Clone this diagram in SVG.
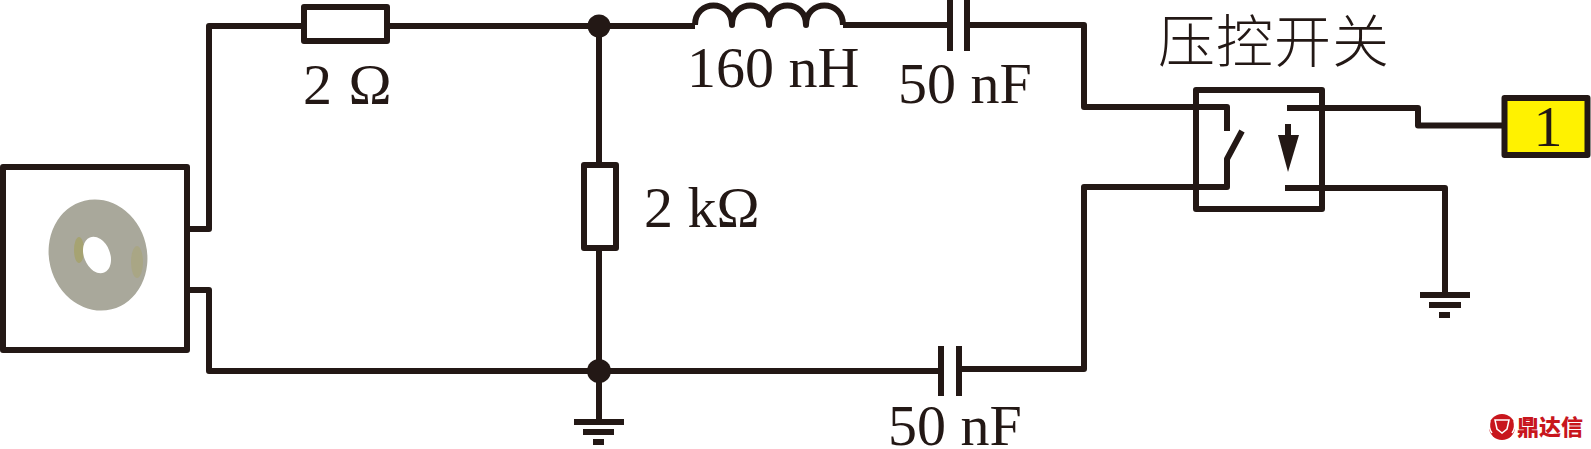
<svg xmlns="http://www.w3.org/2000/svg" width="1591" height="449" viewBox="0 0 1591 449">
<style>
.w{fill:none;stroke:#231815;stroke-width:6;stroke-linejoin:round;stroke-linecap:butt}
.b{fill:#fff;stroke:#231815;stroke-width:6;stroke-linejoin:round}
.k{fill:#231815;stroke:none}
.t{font-family:"Liberation Serif","Times New Roman",serif;font-size:58px;fill:#231815}
.c{font-family:"Noto Sans CJK SC",sans-serif;font-size:57px;font-weight:300;fill:#231815}
</style>
<rect width="1591" height="449" fill="#fff"/>
<g id="connectors">
<path class="w" d="M187 229H209V26H303M387 26H695M843 25H950M967 25H1084V107H1227V131"/>
<path class="w" d="M187 290H209V371H941M959 369H1084V187H1227V159L1242 131"/>
<path class="w" d="M599 26V164M599 248V422"/>
<path class="w" d="M1287 108H1418V125.500H1502"/>
<path class="w" d="M1285 188H1445V295"/>
</g>
<g id="source">
<rect class="b" x="3" y="167" width="184" height="183"/>
<ellipse cx="98" cy="255" rx="49" ry="56" transform="rotate(-14 98 255)" fill="#a9a89b"/>
<ellipse cx="137" cy="262" rx="6" ry="16" fill="#a9a685"/>
<ellipse cx="79" cy="250" rx="5" ry="13" fill="#a6a372"/>
<ellipse cx="97" cy="255" rx="13" ry="19" transform="rotate(-22 97 255)" fill="#fff"/>
</g>
<g id="r1"><rect class="b" x="304" y="7" width="83" height="34"/><text class="t" x="303" y="104" letter-spacing="1">2 Ω</text></g>
<g id="r2"><rect class="b" x="584" y="165" width="32" height="83"/><text class="t" x="644" y="227">2 kΩ</text></g>
<g id="junction-top"><circle class="k" cx="599" cy="26" r="11.500"/></g>
<g id="junction-bottom"><circle class="k" cx="599" cy="371" r="12"/></g>
<g id="inductor">
<path class="w" d="M695 25C695 -1 732 -1 732 25C732 -1 769 -1 769 25C769 -1 806 -1 806 25C806 -1 843 -1 843 25"/>
<text class="t" x="687" y="87">160 nH</text>
</g>
<g id="c1">
<path class="w" d="M950 0V51M967 0V51"/>
<text class="t" x="898" y="103">50 nF</text>
</g>
<g id="c2">
<path class="w" d="M941 346V396M959 346V396"/>
<text class="t" x="888" y="445">50 nF</text>
</g>
<g id="ground-1"><path class="k" d="M574 419H624V425H574ZM583 429H614V435H583ZM593 439H604V445H593Z"/></g>
<g id="ground-2"><path class="k" d="M1420 292H1470V298H1420ZM1429 302H1461V308H1429ZM1439 312H1450V318H1439Z"/></g>
<g id="switch">
<rect x="1196" y="90" width="126" height="119" fill="none" stroke="#231815" stroke-width="6" stroke-linejoin="round"/>
<path class="w" d="M1288 124V138"/>
<path class="k" d="M1278 135H1299L1288 172Z"/>
<text class="c" x="1158" y="62" letter-spacing="1">压控开关</text>
</g>
<g id="output">
<rect x="1504.500" y="98" width="83" height="57" fill="#fff200" stroke="#231815" stroke-width="6" stroke-linejoin="round"/>
<text class="t" x="1548" y="146" text-anchor="middle">1</text>
</g>
<g id="logo">
<circle cx="1502" cy="427" r="13" fill="#c8161d"/>
<path d="M1495 420H1509L1507 429L1502 433L1497 429Z" fill="none" stroke="#fff" stroke-width="1.500"/>
<path d="M1490 421Q1488 428 1492 433M1514 421Q1516 428 1512 433" fill="none" stroke="#fff" stroke-width="1.500"/>
<text x="1517" y="435" font-family="Noto Sans CJK SC,sans-serif" font-size="22" font-weight="900" fill="#c8161d">鼎达信</text>
</g>
</svg>
